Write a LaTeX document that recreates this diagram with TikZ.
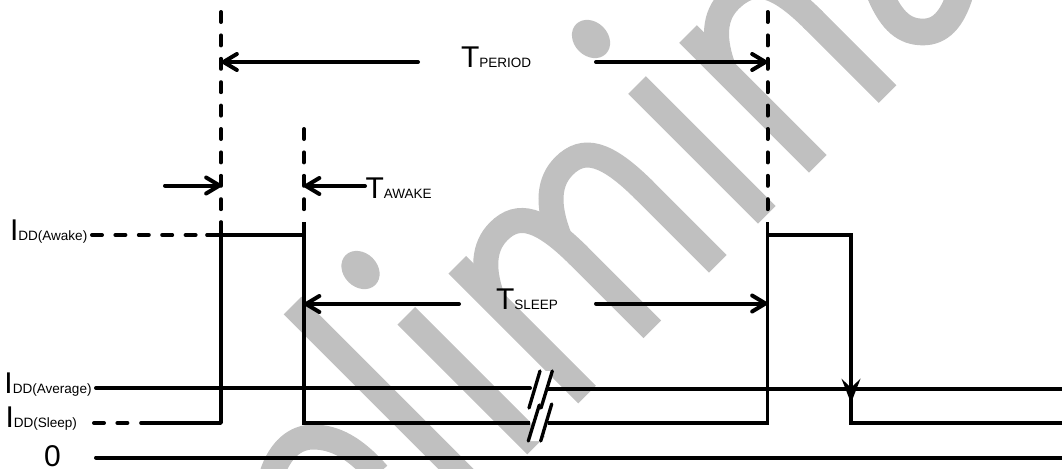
\documentclass[tikz,border=0pt]{standalone}
\usepackage{fontspec}
\setmainfont{Liberation Sans}
\usetikzlibrary{arrows.meta}
\definecolor{wm}{HTML}{C0C0C0}
\newcommand{\bigsz}{\fontsize{22.5}{24}\selectfont}
\newcommand{\subsz}{\fontsize{10.15}{12}\selectfont}
\newcommand{\stem}[3]{\draw[wmstroke] (#1,#2) -- (#1,#3);}
\newcommand{\archump}[2]{%
  \pgfmathsetmacro{\sa}{#1+20}\pgfmathsetmacro{\sb}{#1+45}\pgfmathsetmacro{\sc}{#1+75}%
  \pgfmathsetmacro{\sd}{#2-17}%
  \draw[wmstroke] (#1,795) .. controls (\sa,750) and (\sb,730) .. (\sc,730)
    .. controls (\sd,730) and (#2,758) .. (#2,835);}
\tikzset{
  wmstroke/.style={draw=wm,line width=18.75pt,line cap=butt},
  wire/.style={draw=black,line width=2.75pt,line join=miter,line cap=butt},
  heavy/.style={draw=black,line width=3pt,line cap=round},
  dashed line/.style={draw=black,line width=3pt,line cap=round,dash pattern=on 7.5pt off 10.05pt},
  dim/.style={draw=black,line width=3pt,line cap=round,-{Straight Barb[length=10pt,width=12pt,round]}},
  slash/.style={draw=black,line width=2.5pt,line cap=round},
  lab/.style={anchor=base west,inner sep=0pt,outer sep=0pt,text=black,font=\bigsz}
}
\begin{document}
\begin{tikzpicture}[x=0.75pt,y=-0.75pt]
\useasboundingbox (0,0) rectangle (1062,468);
\fill[white] (0,0) rectangle (1062,468);
% watermark
\begin{scope}
\clip (0,0) rectangle (1062,468);
\draw[wmstroke,line width=18.75pt] (272,474) .. controls (280,450) and (295,437) .. (313,437) .. controls (335,437) and (355,448) .. (378,474);
\draw[wmstroke,line width=20pt] (880,-6) .. controls (892,22) and (905,32) .. (923,32) .. controls (940,32) and (952,20) .. (960,-6);
\fill[wm] (360.5,270) ellipse[x radius=21,y radius=17,rotate=-45];
\fill[wm] (591,39) ellipse[x radius=21,y radius=17,rotate=-45];
\begin{scope}[x={(0.375pt,0.375pt)},y={(0.375pt,-0.375pt)}]
\stem{-13}{598}{1300}
\stem{90.5}{722}{981.5}
\stem{192.5}{722}{981.5}
\stem{323}{830}{981.5}
\stem{454}{830}{981.5}
\stem{552}{722}{981.5}
\stem{654}{722}{981.5}
\stem{793.5}{830}{981.5}
\archump{192.5}{323}
\archump{323}{454}
\archump{654}{793.5}
\end{scope}
\end{scope}
% coordinates
\coordinate (a0) at (221,12);   \coordinate (a1) at (221,222); \coordinate (a2) at (221,423);
\coordinate (b0) at (304,129); \coordinate (b1) at (304,222); \coordinate (b2) at (304,423);
\coordinate (c0) at (767.5,12);  \coordinate (c1) at (767.5,222); \coordinate (c2) at (767.5,423);
\coordinate (d0) at (851,235); \coordinate (d1) at (851,423); \coordinate (e0) at (1062,423);
\coordinate (aw0) at (92,235); \coordinate (aw1) at (207,235); \coordinate (aw2) at (304,235);
\coordinate (c3) at (767.5,235);
\coordinate (sl0) at (94,423); \coordinate (sl1) at (131,423); \coordinate (sl2) at (141,423);
\coordinate (av0) at (96,388); \coordinate (av1) at (530,388); \coordinate (av2) at (548,389); \coordinate (av3) at (1062,389);
\coordinate (br1) at (530,423); \coordinate (br2) at (548,423);
\coordinate (z0) at (96,457.5); \coordinate (z1) at (1062,457.5);
\coordinate (tip) at (851,403); \coordinate (tipstart) at (851,370);
\coordinate (pl) at (418,62); \coordinate (pla) at (221.5,62); \coordinate (pr) at (596,62); \coordinate (pra) at (767.5,62);
\coordinate (wl) at (165,185.5); \coordinate (wla) at (221.5,185.5); \coordinate (wr) at (365,186); \coordinate (wra) at (304,186);
\coordinate (sl) at (459,304); \coordinate (sla) at (304,304); \coordinate (sr) at (596,303.5); \coordinate (sra) at (767.5,303.5);
% dashed guides
\draw[dashed line] (a0) -- (a1);
\draw[dashed line] (b0) -- (b1);
\draw[dashed line] (c0) -- (c1);
\draw[dashed line] (aw0) -- (aw1);
\draw[dashed line] (sl0) -- (sl1);
% waveform
\draw[wire,line cap=round] (aw1) -- (aw2);
\draw[wire,line cap=round,line join=round] (sl2) -- (a2) -- (a1);
\draw[wire] (b1) -- (b2) -- (br1);
\draw[wire] (br2) -- (c2) -- (c1);
\draw[wire] (c3) -- (d0) -- (d1) -- (e0);
\draw[heavy] (av0) -- (av1);
\draw[wire] (av2) -- (av3);
\draw[heavy] (z0) -- (z1);
\draw[wire,-{Stealth[length=18pt,width=14pt,inset=6.5pt]}] (tipstart) -- (tip);
% dimension arrows
\draw[dim] (pl) -- (pla);
\draw[dim] (pr) -- (pra);
\draw[dim] (wl) -- (wla);
\draw[dim] (wr) -- (wra);
\draw[dim] (sl) -- (sla);
\draw[dim] (sr) -- (sra);
% break marks
\coordinate (s1a) at (540,371); \coordinate (s1b) at (529,408);
\coordinate (s2a) at (552.3,371); \coordinate (s2b) at (541,408);
\coordinate (s3a) at (539.3,405); \coordinate (s3b) at (528.3,441);
\coordinate (s4a) at (551.7,404); \coordinate (s4b) at (540.7,441);
\fill[white] (s1a) -- (s2a) -- (s2b) -- (s1b) -- cycle;
\fill[white] (s3a) -- (s4a) -- (s4b) -- (s3b) -- cycle;
\draw[slash] (s1a) -- (s1b);
\draw[slash] (s2a) -- (s2b);
\draw[slash] (s3a) -- (s3b);
\draw[slash] (s4a) -- (s4b);
% labels
\node[lab] (tperiod) at (461,67) {T\subsz PERIOD};
\node[lab] (tawake) at (365.5,198) {T\subsz AWAKE};
\node[lab] (tsleep) at (496,309) {T\subsz SLEEP};
\node[lab] (iawake) at (10,240) {I\subsz DD(Awake)};
\node[lab] (iavg) at (4.5,393) {I\subsz DD(Average)};
\node[lab] (isleep) at (5.5,427) {I\subsz DD(Sleep)};
\node[lab] (zero) at (44,466) {0};
\end{tikzpicture}
\end{document}
